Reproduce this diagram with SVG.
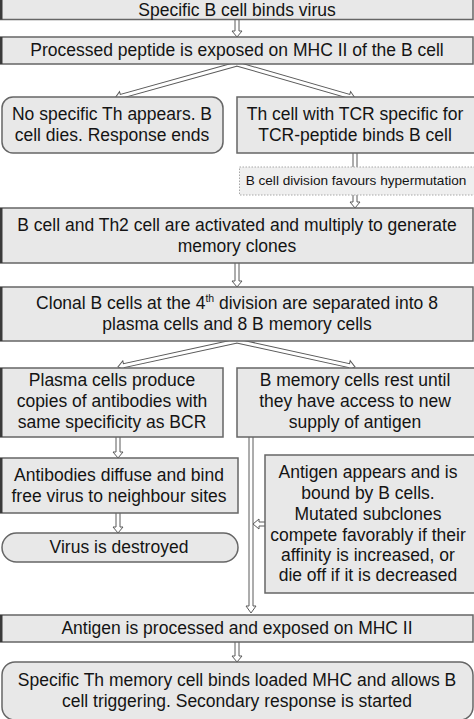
<svg xmlns="http://www.w3.org/2000/svg" width="474" height="719" viewBox="0 0 474 719">
<style>
.bx{fill:#e8e8e8;stroke:#666666;stroke-width:1.5}
.lb{fill:#3a3a3a}
.dt{fill:#efefef;stroke:#a8a8a8;stroke-width:1;stroke-dasharray:1.5 1.5}
text{font-family:"Liberation Sans",Arial,sans-serif;font-size:17.5px;fill:#141414;text-anchor:middle}
.sm{font-size:13.6px}
.ar{fill:#ffffff;stroke:#5a5a5a;stroke-width:1}
.ln{stroke:#5a5a5a;stroke-width:1;fill:none}
</style>
<rect width="474" height="719" fill="#ffffff"/>
<g id="connectors">
<path class="ar" d="M235,19 L235,31 L232,31 L237,37 L242,31 L239,31 L239,19"/>
<g transform="translate(237,64) rotate(164.4)"><path class="ar" d="M0,-2 L120.6,-2 L120.6,-5 L126.6,0 L120.6,5 L120.6,2 L0,2"/></g>
<g transform="translate(237,64) rotate(16.1)"><path class="ar" d="M0,-2 L116.8,-2 L116.8,-5 L122.8,0 L116.8,5 L116.8,2 L0,2"/></g>
<line class="ln" x1="353" y1="153" x2="353" y2="167"/>
<line class="ln" x1="357" y1="153" x2="357" y2="167"/>
<path class="ar" d="M353,195 L353,202 L350,202 L355,208 L360,202 L357,202 L357,195"/>
<path class="ar" d="M235,263 L235,281 L232,281 L237,287 L242,281 L239,281 L239,263"/>
<g transform="translate(237,341) rotate(167.7)"><path class="ar" d="M0,-2 L115.8,-2 L115.8,-5 L121.8,0 L115.8,5 L115.8,2 L0,2"/></g>
<g transform="translate(237,341) rotate(12.4)"><path class="ar" d="M0,-2 L114.8,-2 L114.8,-5 L120.8,0 L114.8,5 L114.8,2 L0,2"/></g>
<path class="ar" d="M116,437 L116,452 L113,452 L118,458 L123,452 L120,452 L120,437"/>
<path class="ar" d="M116,513 L116,527 L113,527 L118,533 L123,527 L120,527 L120,513"/>
<path class="ar" d="M249,437 L249,606 L246,606 L251,613 L256,606 L253,606 L253,437"/>
<path class="ar" d="M265,522 L259,522 L259,519 L253,524 L259,529 L259,526 L265,526"/>
<path class="ar" d="M235,642 L235,656 L232,656 L237,662 L242,656 L239,656 L239,642"/>
</g>
<g id="n1">
<rect class="bx" x="-2" y="-10" width="475" height="29.5"/>
<rect class="lb" x="0" y="-10" width="2.5" height="29.5"/>
<text x="237" y="15.5" font-size="16.5">Specific B cell binds virus</text>
</g>
<g id="n2">
<rect class="bx" x="-2" y="37" width="475" height="27"/>
<rect class="lb" x="0" y="37" width="2.5" height="27"/>
<text x="237" y="56">Processed peptide is exposed on MHC II of the B cell</text>
</g>
<g id="n3">
<rect class="bx" x="2" y="97" width="221" height="56" rx="11"/>
<text x="112" y="120">No specific Th appears. B</text>
<text x="112" y="141">cell dies. Response ends</text>
</g>
<g id="n4">
<rect class="bx" x="237" y="97" width="238" height="56"/>
<text x="355" y="120">Th cell with TCR specific for</text>
<text x="355" y="141">TCR-peptide binds B cell</text>
</g>
<g id="n5">
<rect class="dt" x="239.5" y="167" width="236" height="28"/>
<text class="sm" x="356" y="185">B cell division favours hypermutation</text>
</g>
<g id="n6">
<rect class="bx" x="-2" y="208" width="475" height="55"/>
<rect class="lb" x="0" y="208" width="2.5" height="55"/>
<text x="237" y="231">B cell and Th2 cell are activated and multiply to generate</text>
<text x="237" y="252">memory clones</text>
</g>
<g id="n7">
<rect class="bx" x="-2" y="287" width="475" height="54"/>
<rect class="lb" x="0" y="287" width="2.5" height="54"/>
<text x="237" y="309">Clonal B cells at the 4<tspan dy="-7" font-size="10.5">th</tspan><tspan dy="7"> division are separated into 8</tspan></text>
<text x="237" y="330">plasma cells and 8 B memory cells</text>
</g>
<g id="n8">
<rect class="bx" x="-2" y="368" width="225" height="69"/>
<rect class="lb" x="0" y="368" width="2.5" height="69"/>
<text x="112" y="386">Plasma cells produce</text>
<text x="112" y="407">copies of antibodies with</text>
<text x="112" y="428">same specificity as BCR</text>
</g>
<g id="n9">
<rect class="bx" x="237" y="368" width="238" height="69"/>
<text x="355" y="386">B memory cells rest until</text>
<text x="355" y="407">they have access to new</text>
<text x="355" y="428">supply of antigen</text>
</g>
<g id="n10">
<rect class="bx" x="-2" y="458" width="240" height="55"/>
<rect class="lb" x="0" y="458" width="2.5" height="55"/>
<text x="119" y="481">Antibodies diffuse and bind</text>
<text x="119" y="502">free virus to neighbour sites</text>
</g>
<g id="n11">
<rect class="bx" x="2" y="533" width="236" height="29" rx="14.5"/>
<text x="119" y="553">Virus is destroyed</text>
</g>
<g id="n12">
<rect class="bx" x="265" y="455" width="210" height="138"/>
<text x="368" y="478">Antigen appears and is</text>
<text x="368" y="499">bound by B cells.</text>
<text x="368" y="520">Mutated subclones</text>
<text x="368" y="541">compete favorably if their</text>
<text x="368" y="561">affinity is increased, or</text>
<text x="368" y="581">die off if it is decreased</text>
</g>
<g id="n13">
<rect class="bx" x="-2" y="615" width="475" height="27"/>
<rect class="lb" x="0" y="615" width="2.5" height="27"/>
<text x="237" y="634">Antigen is processed and exposed on MHC II</text>
</g>
<g id="n14">
<rect class="bx" x="2" y="662" width="471" height="58" rx="13"/>
<text x="237" y="686">Specific Th memory cell binds loaded MHC and allows B</text>
<text x="237" y="707">cell triggering. Secondary response is started</text>
</g>
</svg>
